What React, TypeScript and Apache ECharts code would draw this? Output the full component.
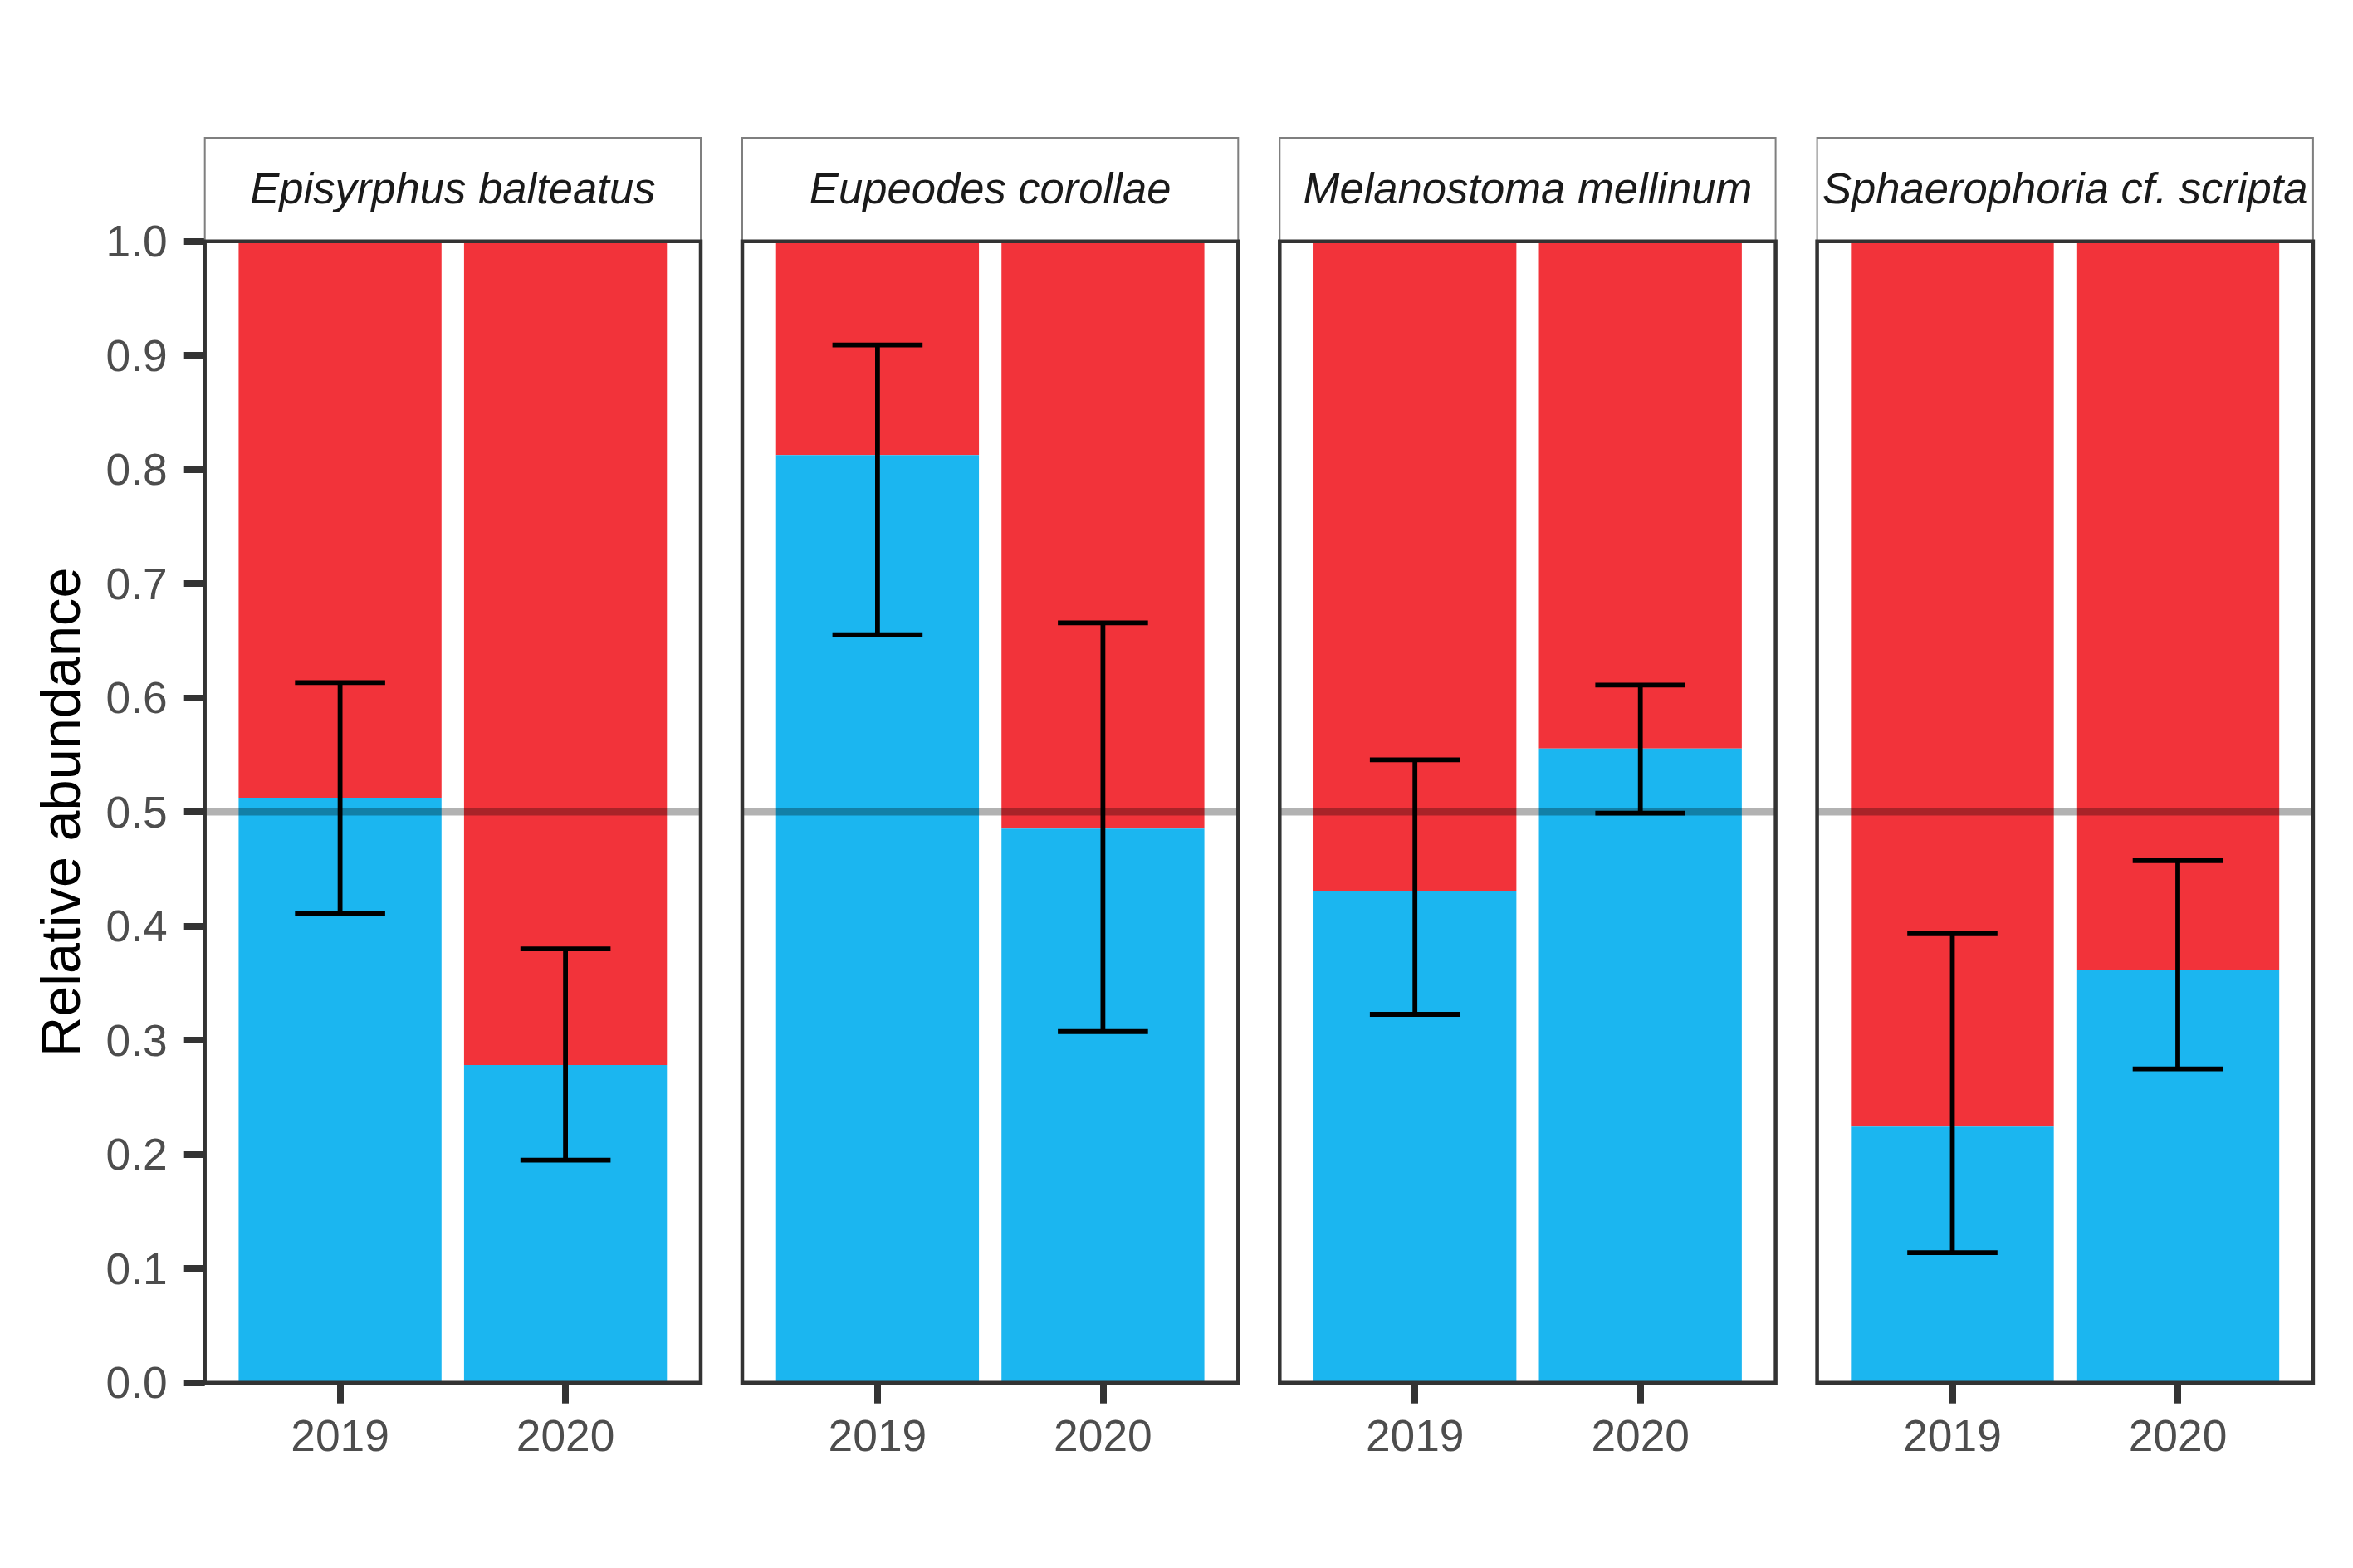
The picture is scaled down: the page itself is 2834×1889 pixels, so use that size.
import React, { useEffect, useRef } from "react";
import * as echarts from "echarts";

// ---------------- data ----------------
const speciesNames = [
  "Episyrphus balteatus",
  "Eupeodes corollae",
  "Melanostoma mellinum",
  "Sphaerophoria cf. scripta",
];
const yearLabels = ["2019", "2020"];
const yearPositions = [1, 2];

// proportion of the blue class (lower segment) per species, [2019, 2020]
const blueEpisyrphus = [0.5125, 0.2783];
const blueEupeodes = [0.8127, 0.4854];
const blueMelanostoma = [0.4311, 0.5556];
const blueSphaerophoria = [0.2244, 0.3612];

// error bar limits per species, [2019, 2020]
const lowerEpisyrphus = [0.4112, 0.1949];
const upperEpisyrphus = [0.6134, 0.3801];
const lowerEupeodes = [0.6554, 0.3076];
const upperEupeodes = [0.9092, 0.6657];
const lowerMelanostoma = [0.3227, 0.4989];
const upperMelanostoma = [0.5457, 0.6112];
const lowerSphaerophoria = [0.1139, 0.2749];
const upperSphaerophoria = [0.3933, 0.4574];

const referenceLevel = 0.5;
const xLimits = [0.4, 2.6];
const yLimits = [0, 1];
const yTickStep = 0.1;
const yTitle = "Relative abundance";

const blueByPanel = [blueEpisyrphus, blueEupeodes, blueMelanostoma, blueSphaerophoria];
const lowerByPanel = [lowerEpisyrphus, lowerEupeodes, lowerMelanostoma, lowerSphaerophoria];
const upperByPanel = [upperEpisyrphus, upperEupeodes, upperMelanostoma, upperSphaerophoria];

// ---------------- layout / style ----------------
const W = 2834;
const H = 1889;
const PANEL_LEFT0 = 246.7;
const PANEL_PITCH = 647.3;
const PANEL_W = 597.3;
const PANEL_TOP = 290.7;
const PANEL_H = 1375;
const STRIP_TOP = 166;
const BAR_WIDTH = 0.9;
const CAP_WIDTH = 0.4;
const FONT = "'Liberation Sans', Arial, Helvetica, sans-serif";
const RED = "#F2333A";
const BLUE = "#1BB6F0";
const TEXT_SIZE = 53.3;
const STRIP_SIZE = 52.6;
const TITLE_SIZE = 66.7;

export default function App() {
  const ref = useRef<HTMLDivElement | null>(null);

  useEffect(() => {
    if (!ref.current) return;
    const chart = echarts.init(ref.current, undefined, { renderer: "svg" });

    const grids: any[] = [];
    const xAxes: any[] = [];
    const yAxes: any[] = [];
    const series: any[] = [];
    const graphics: any[] = [];

    speciesNames.forEach((name, i) => {
      const left = PANEL_LEFT0 + i * PANEL_PITCH;
      grids.push({
        left,
        top: PANEL_TOP,
        width: PANEL_W,
        height: PANEL_H,
        containLabel: false,
        outerBoundsMode: "none",
      });
      xAxes.push({
        type: "value",
        gridIndex: i,
        min: xLimits[0],
        max: xLimits[1],
        axisLine: { show: false },
        splitLine: { show: false },
        axisTick: {
          show: true,
          inside: false,
          length: 25,
          customValues: yearPositions,
          lineStyle: { color: "#333333", width: 8 },
        },
        axisLabel: {
          show: true,
          customValues: yearPositions,
          formatter: (v: number) => {
            const k = yearPositions.indexOf(Math.round(v));
            return k >= 0 ? yearLabels[k] : "";
          },
          margin: 37,
          fontSize: TEXT_SIZE,
          fontFamily: FONT,
          color: "#4d4d4d",
        },
      });
      yAxes.push({
        type: "value",
        gridIndex: i,
        min: yLimits[0],
        max: yLimits[1],
        interval: yTickStep,
        axisLine: { show: false },
        splitLine: { show: false },
        axisTick: {
          show: i === 0,
          inside: false,
          length: 25,
          lineStyle: { color: "#333333", width: 8 },
        },
        axisLabel: {
          show: i === 0,
          formatter: (v: number) => v.toFixed(1),
          margin: 45,
          fontSize: TEXT_SIZE,
          fontFamily: FONT,
          color: "#4d4d4d",
        },
      });

      const blue = blueByPanel[i];
      const lower = lowerByPanel[i];
      const upper = upperByPanel[i];

      // stacked bars (blue share below, remainder red above)
      series.push({
        type: "custom",
        xAxisIndex: i,
        yAxisIndex: i,
        z: 2,
        silent: true,
        clip: false,
        encode: { x: 0, y: 1 },
        data: yearPositions.map((x, j) => [x, blue[j]]),
        renderItem: (_p: any, api: any) => {
          const x = api.value(0);
          const p = api.value(1);
          const h = BAR_WIDTH / 2;
          const tl = api.coord([x - h, yLimits[1]]);
          const br = api.coord([x + h, yLimits[0]]);
          const mid = api.coord([x - h, p]);
          return {
            type: "group",
            children: [
              {
                type: "rect",
                shape: { x: tl[0], y: tl[1], width: br[0] - tl[0], height: mid[1] - tl[1] },
                style: { fill: RED },
              },
              {
                type: "rect",
                shape: { x: tl[0], y: mid[1], width: br[0] - tl[0], height: br[1] - mid[1] },
                style: { fill: BLUE },
              },
            ],
          };
        },
      });

      // reference line at 0.5
      series.push({
        type: "line",
        xAxisIndex: i,
        yAxisIndex: i,
        z: 3,
        silent: true,
        symbol: "none",
        data: [
          [xLimits[0], referenceLevel],
          [xLimits[1], referenceLevel],
        ],
        lineStyle: { color: "rgba(0,0,0,0.3)", width: 8.7, cap: "butt" },
      });

      // error bars
      series.push({
        type: "custom",
        xAxisIndex: i,
        yAxisIndex: i,
        z: 4,
        silent: true,
        clip: false,
        encode: { x: 0, y: [1, 2] },
        data: yearPositions.map((x, j) => [x, lower[j], upper[j]]),
        renderItem: (_p: any, api: any) => {
          const x = api.value(0);
          const lo = api.value(1);
          const hi = api.value(2);
          const c = CAP_WIDTH / 2;
          const pLo = api.coord([x, lo]);
          const pHi = api.coord([x, hi]);
          const loL = api.coord([x - c, lo]);
          const loR = api.coord([x + c, lo]);
          const hiL = api.coord([x - c, hi]);
          const hiR = api.coord([x + c, hi]);
          const st = { stroke: "#000000", lineWidth: 5.8, lineCap: "butt" };
          return {
            type: "group",
            children: [
              { type: "line", shape: { x1: pLo[0], y1: pLo[1], x2: pHi[0], y2: pHi[1] }, style: st },
              { type: "line", shape: { x1: loL[0], y1: loL[1], x2: loR[0], y2: loR[1] }, style: st },
              { type: "line", shape: { x1: hiL[0], y1: hiL[1], x2: hiR[0], y2: hiR[1] }, style: st },
            ],
          };
        },
      });

      // strip
      graphics.push({
        type: "rect",
        z: 1,
        silent: true,
        shape: { x: left, y: STRIP_TOP, width: PANEL_W, height: PANEL_TOP - STRIP_TOP },
        style: { fill: "#ffffff", stroke: "#7f7f7f", lineWidth: 2 },
      });
      graphics.push({
        type: "text",
        z: 60,
        silent: true,
        x: left + PANEL_W / 2,
        y: (STRIP_TOP + PANEL_TOP) / 2 - 1.5,
        style: {
          text: name,
          fill: "#1a1a1a",
          fontSize: STRIP_SIZE,
          fontFamily: FONT,
          fontStyle: "italic",
          align: "center",
          verticalAlign: "middle",
          textAlign: "center",
          textVerticalAlign: "middle",
        },
      });
      // panel border
      graphics.push({
        type: "rect",
        z: 50,
        silent: true,
        shape: { x: left, y: PANEL_TOP, width: PANEL_W, height: PANEL_H },
        style: { fill: "none", stroke: "#333333", lineWidth: 4.5 },
      });
    });

    graphics.push({
      type: "text",
      z: 60,
      silent: true,
      x: 73,
      y: PANEL_TOP + PANEL_H / 2,
      rotation: Math.PI / 2,
      style: {
        text: yTitle,
        fill: "#000000",
        fontSize: TITLE_SIZE,
        fontFamily: FONT,
        align: "center",
        verticalAlign: "middle",
        textAlign: "center",
        textVerticalAlign: "middle",
      },
    });

    chart.setOption({
      animation: false,
      backgroundColor: "#ffffff",
      grid: grids,
      xAxis: xAxes,
      yAxis: yAxes,
      series,
      graphic: { elements: graphics },
    });

    return () => {
      chart.dispose();
    };
  }, []);

  return (
    <div
      ref={ref}
      style={{ position: "fixed", left: 0, top: 0, width: W, height: H, background: "#ffffff" }}
    />
  );
}
